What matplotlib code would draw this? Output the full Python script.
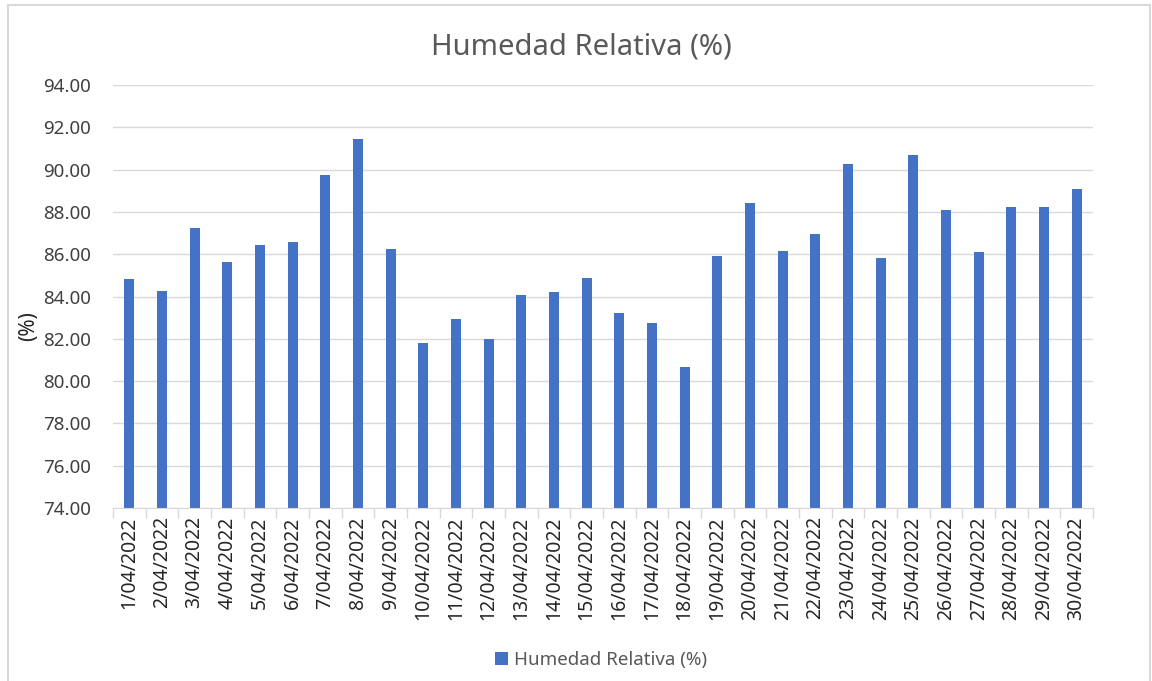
#!/usr/bin/env python3
"""Humedad relativa diaria - abril 2022 (bar chart)."""

import matplotlib
matplotlib.use("Agg")
import matplotlib.pyplot as plt
from matplotlib.patches import Rectangle

# daily values
days = [f"{d}/04/2022" for d in range(1, 31)]
humedad = [84.83, 84.28, 87.25, 85.62, 86.44, 86.59, 89.75, 91.45, 86.24, 81.79,
           82.94, 82.00, 84.06, 84.22, 84.88, 83.20, 82.77, 80.66, 85.90, 88.40,
           86.17, 86.94, 90.28, 85.80, 90.71, 88.11, 86.10, 88.22, 88.22, 89.10]
y_ticks = [74 + 2 * i for i in range(11)]

BAR = "#4472C4"
TXT = "#595959"
GRID = "#D9D9D9"

plt.rcParams["font.family"] = ["Noto Sans", "DejaVu Sans"]


def main():
    fig = plt.figure(figsize=(11.52, 6.81), dpi=100)
    ax = fig.add_axes([113 / 1152, 1 - 508 / 681, 980 / 1152, 423 / 681])

    x = list(range(len(days)))
    ax.bar(x, humedad, width=0.31, color=BAR, zorder=3,
           label="Humedad Relativa (%)")

    ax.set_xlim(-0.5, len(days) - 0.5)
    ax.set_ylim(74, 94)
    ax.set_yticks(y_ticks)
    ax.set_yticklabels([f"{v:.2f}" for v in y_ticks], fontsize=13.5, color="#404040")
    ax.set_xticks(x)
    ax.set_xticklabels(days, rotation=90, fontsize=14, color="#262626")
    ax.set_xticks([i - 0.5 for i in range(len(days) + 1)], minor=True)
    ax.tick_params(axis="x", which="major", length=0, pad=6)
    ax.tick_params(axis="x", which="minor", length=7, color=GRID, width=1)
    ax.tick_params(axis="y", length=0, pad=16)

    ax.grid(axis="y", color=GRID, linewidth=1, zorder=0)
    for s in ["top", "right", "left"]:
        ax.spines[s].set_visible(False)
    ax.spines["bottom"].set_color(GRID)
    ax.spines["bottom"].set_zorder(4)

    fig.text(0.505, 1 - 47 / 681, "Humedad Relativa (%)", ha="center", va="center",
             fontsize=21, color=TXT)
    fig.text(29 / 1152, 1 - 326 / 681, "(%)", rotation=90, ha="center", va="center",
             fontsize=15, fontweight="bold", color="#262626")

    fig.legend(loc="center", bbox_to_anchor=(601 / 1152, 1 - 660 / 681), frameon=False,
               fontsize=13.5, labelcolor=TXT, handlelength=0.7, handleheight=0.7,
               handletextpad=0.3)

    # chart area border like the spreadsheet export
    fig.patches.append(Rectangle((8 / 1152, -0.01), 1142 / 1152, 1 - 5 / 681 + 0.01,
                                 transform=fig.transFigure, fill=False,
                                 edgecolor=GRID, linewidth=1.5))

    fig.savefig("out.png", dpi=100)


if __name__ == "__main__":
    main()
